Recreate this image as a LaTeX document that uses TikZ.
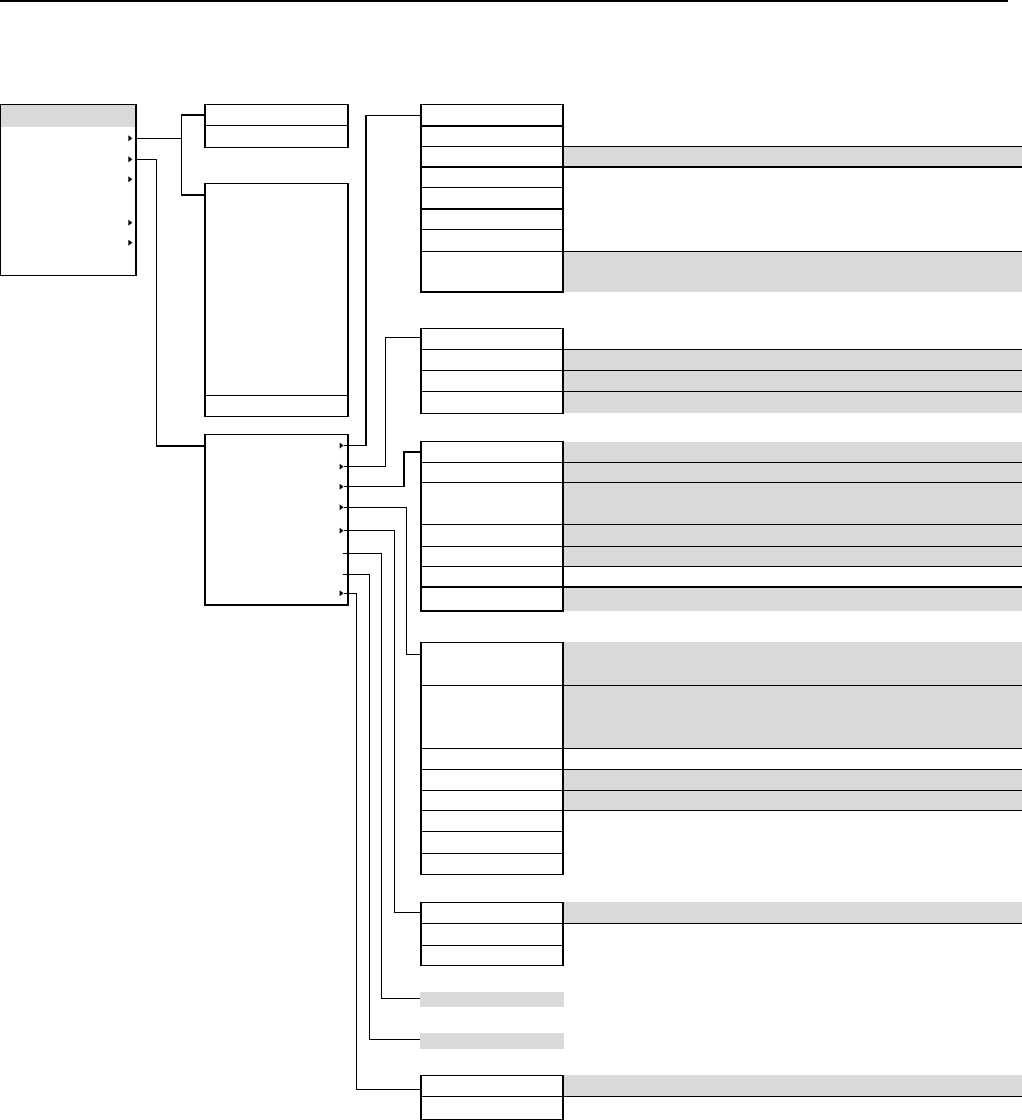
\documentclass[tikz,border=0pt]{standalone}
\definecolor{gbg}{HTML}{D9D9D9}
\tikzset{
  box/.style={draw, line width=1.3pt, inner sep=0pt, outer sep=0pt, anchor=north west, minimum width=142pt},
  band/.style={fill=gbg, inner sep=0pt, outer sep=0pt, anchor=north west, minimum width=459pt},
  conn/.style={line width=1.3pt},
  bar/.style={fill=gbg, inner sep=0pt, outer sep=0pt, anchor=north west, minimum width=144pt}
}
\newcommand\grpbands[2]{\foreach \t/\h/\g [count=\i] in #2 {\ifnum\g=1 \node[band, minimum height=\h] (#1b\i) at (563,\t) {};\fi}}
\newcommand\grpboxes[2]{\foreach \t/\h/\g [count=\i] in #2 {\node[box, minimum height=\h] (#1r\i) at (421,\t) {};}}
\newcommand\tri[2]{\fill (#1-2,#2-3) -- (#1+2,#2) -- (#1-2,#2+3) -- cycle;}
\begin{document}
\begin{tikzpicture}[x=1pt,y=-1pt]
\useasboundingbox (0,0) rectangle (1022,1120);
\def\GA{104.3/21.7/0,126/20.3/0,146.3/20.7/1,167/20.3/0,187.3/21.7/0,209/20.3/0,229.3/22/0,251.3/40.7/1}
\def\GB{328.3/21/0,349.3/21/1,370.3/21/1,391.3/22/1}
\def\GC{441.7/20.6/1,462.3/20/1,482.3/42/1,524.3/22/1,546.3/20/1,566.3/20.7/0,587/24/1}
\def\GD{642.3/43/1,685.3/63/1,748.3/21/0,769.3/21/1,790.3/20/1,810.3/21/0,831.3/22/0,853.3/21/0}
\def\GE{902.3/21/1,923.3/22/0,945.3/20/0}
\def\GF{1075.3/21/1,1096.3/23/0}
% top rule
\draw[line width=1.5pt] (0,0.75) -- (1008,0.75);
% gray bands
\grpbands{G1}{\GA}
\grpbands{G2}{\GB}
\grpbands{G3}{\GC}
\grpbands{G4}{\GD}
\grpbands{G5}{\GE}
\grpbands{G6}{\GF}
\node[bar, minimum height=14.4] (bar1) at (420,992.3) {};
\node[bar, minimum height=15.4] (bar2) at (420,1033.3) {};
% row boxes
\grpboxes{G1}{\GA}
\grpboxes{G2}{\GB}
\grpboxes{G3}{\GC}
\grpboxes{G4}{\GD}
\grpboxes{G5}{\GE}
\grpboxes{G6}{\GF}
% divider extensions
\foreach \n/\s in {G1r3/north,G1r3/south,G1r8/north,
                G2r2/north,G2r3/north,G2r4/north,
                G3r2/north,G3r3/north,G3r4/north,G3r5/north,G3r6/north,G3r7/north,
                G4r2/north,G4r3/north,G4r4/north,G4r5/north,G4r6/north,
                G5r2/north,G6r2/north}
  {\draw[conn] (\n.\s) -- ++(530,0);}
% left box A
\node[fill=gbg, inner sep=0pt, outer sep=0pt, anchor=north west, minimum width=136pt, minimum height=22.4pt] (Ahead) at (0,104.3) {};
\node[box, minimum width=136pt, minimum height=171pt] (A) at (0,104.3) {};
% boxes B1, B2, C
\node[box, minimum width=143pt, minimum height=21.2pt] (B1r1) at (205,104.3) {};
\node[box, minimum width=143pt, minimum height=21.8pt] (B1r2) at (205,125.5) {};
\node[box, minimum width=143pt, minimum height=212pt] (B2r1) at (205,183.3) {};
\node[box, minimum width=143pt, minimum height=21pt] (B2r2) at (205,395.3) {};
\node[box, minimum width=143pt, minimum height=170.7pt] (C) at (205,434.3) {};
% arrows in A
\tri{130.3}{138.3}
\tri{130.3}{159.3}
\tri{130.3}{179.3}
\tri{130.3}{222.7}
\tri{130.3}{242.7}
% arrows in C
\tri{341.5}{445.5}
\tri{341.5}{466.7}
\tri{341.5}{486.7}
\tri{341.5}{507.3}
\tri{341.5}{530.7}
\tri{341.5}{593.3}
% connection points
\coordinate (A1) at (136,138.3);
\coordinate (A2) at (136,159.3);
\coordinate (B2in) at (205,195);
\coordinate (Cin) at (205,446);
\coordinate (c1) at (343.5,445.5);
\coordinate (c2) at (343.5,466.7);
\coordinate (c3) at (343.5,486.7);
\coordinate (c4) at (343.5,507.3);
\coordinate (c5) at (343.5,530.7);
\coordinate (c6) at (342.7,553.3);
\coordinate (c7) at (342.7,574.3);
\coordinate (c8) at (343.5,593.3);
\coordinate (G2in) at (421,337.5);
\coordinate (G4in) at (421,654.3);
\coordinate (bar1in) at (420,998.5);
\coordinate (bar2in) at (420,1039.5);
\coordinate (G6in) at (421,1089.3);
% connectors
\draw[conn] (A1) -- ++(45.3,0) coordinate (J1);
\draw[conn] (B1r1.west) -| (J1) |- (B2in);
\draw[conn] (A2) -- ++(20.7,0) |- (Cin);
\draw[conn] (c1) -- ++(22.5,0) |- (G1r1.west);
\draw[conn] (c2) -- ++(41.8,0) |- (G2in);
\draw[conn] (c3) -- ++(60.5,0) |- (G3r1.west);
\draw[conn] (c4) -- ++(63.2,0) |- (G4in);
\draw[conn] (c5) -- ++(50.8,0) |- (G5r1.west);
\draw[conn] (c6) -- ++(39,0) |- (bar1in);
\draw[conn] (c7) -- ++(27,0) |- (bar2in);
\draw[conn] (c8) -- ++(12.8,0) |- (G6in);
\end{tikzpicture}
\end{document}
